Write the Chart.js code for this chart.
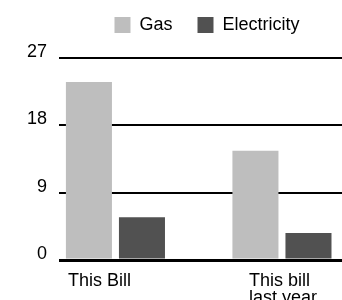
<!DOCTYPE html>
<html>
<head>
<meta charset="utf-8">
<script src="https://cdn.jsdelivr.net/npm/chart.js@4/dist/chart.umd.min.js"></script>
<style>
  html, body { margin: 0; padding: 0; background: #fff; }
  #wrap { width: 342px; height: 300px; overflow: hidden; position: relative; }
  #c { position: absolute; left: 0; top: -9px; }
</style>
</head>
<body>
<div id="wrap"><canvas id="c" width="414" height="320"></canvas></div>
<script>
const seriesNames = ['Gas', 'Electricity'];
const groupPos = [0, 1];
const gasValues = [23.8, 14.6];
const elecValues = [5.7, 3.6];
const xLabels = ['This Bill', ['This bill', 'last year']];
const labelAt = [-0.285, 0.802];
const yTicks = [0, 9, 18, 27];

const xMin = -0.339, xMax = 1.793;

Chart.defaults.font.family = '"Liberation Sans", Arial, sans-serif';
Chart.defaults.font.size = 18;
Chart.defaults.color = '#000';

const toPoints = vals => vals.map((v, i) => ({ x: groupPos[i], y: v }));

// leave a bit more room under the legend row
const legendGap = {
	id: 'legendGap',
	afterInit(chart) {
		const lg = chart.legend;
		const fit = lg.fit.bind(lg);
		lg.fit = () => { fit(); lg.height += 14; };
	}
};

new Chart(document.getElementById('c'), {
	type: 'bar',
	data: {
		datasets: [
			{ label: seriesNames[0], data: toPoints(gasValues), backgroundColor: '#bebebe' },
			{ label: seriesNames[1], data: toPoints(elecValues), backgroundColor: '#515151' }
		]
	},
	plugins: [legendGap],
	options: {
		responsive: false,
		animation: false,
		categoryPercentage: 0.637,
		barPercentage: 0.868,
		plugins: {
			tooltip: { enabled: false },
			legend: {
				labels: { boxWidth: 16, boxHeight: 16, padding: 25, font: { size: 18 } }
			}
		},
		scales: {
			x: {
				type: 'linear', min: xMin, max: xMax, offset: false,
				grid: { display: false }, border: { display: false },
				afterBuildTicks: s => { s.ticks = labelAt.map(v => ({ value: v })); },
				afterFit: s => { s.height = 51; },
				ticks: {
					align: 'start', maxRotation: 0, autoSkip: false, padding: 4,
					font: { size: 18, lineHeight: 0.95 },
					callback: (v, i) => xLabels[i]
				}
			},
			y: {
				min: 0, max: 27,
				afterBuildTicks: s => { s.ticks = yTicks.map(v => ({ value: v })); },
				afterFit: s => { s.width = 59; },
				border: { display: false },
				grid: {
					color: '#000', drawTicks: false,
					lineWidth: c => c.tick && c.tick.value === 0 ? 3 : 2
				},
				ticks: { padding: 12, labelOffset: -6, font: { size: 18 } }
			}
		}
	}
});
</script>
</body>
</html>
